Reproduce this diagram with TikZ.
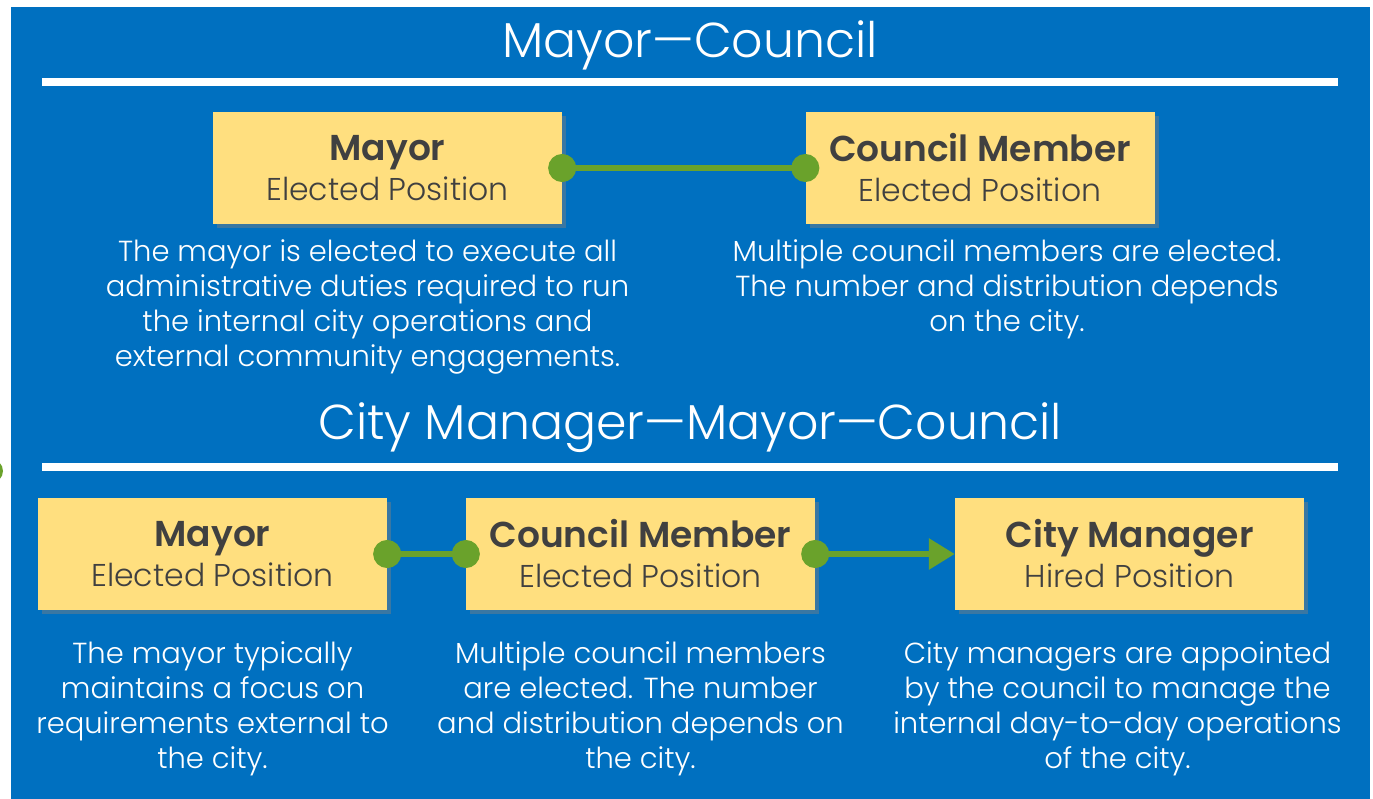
\documentclass[tikz,border=0pt]{standalone}
\usepackage{fontspec}
\setmainfont{Poppins}[UprightFont={* Light},BoldFont={* SemiBold}]
\usetikzlibrary{positioning,shadows,arrows.meta}

\definecolor{bgblue}{HTML}{0070C0}
\definecolor{boxyellow}{HTML}{FFDF7F}
\definecolor{linkgreen}{HTML}{6AA22B}
\definecolor{boxtext}{HTML}{404040}

\tikzset{
  rolebox/.style={fill=boxyellow, text=boxtext, align=center, inner sep=0pt,
    minimum width=349, minimum height=112,
    font=\fontsize{31.5}{40}\selectfont,
    drop shadow={shadow xshift=4pt, shadow yshift=-4pt, opacity=.45}},
  desc/.style={text=white, align=center, inner sep=0pt,
    font=\fontsize{29}{35}\selectfont},
  heading/.style={text=white, inner sep=0pt, font=\fontsize{49}{56}\selectfont},
  link/.style={linkgreen, line width=6pt,
    {Circle[length=28pt]}-{Circle[length=28pt]},
    shorten <=-14pt, shorten >=-14pt},
  hand/.style={linkgreen, line width=6pt,
    {Circle[length=28pt]}-{Triangle[length=26pt,width=30pt]},
    shorten <=-14pt},
}
\newcommand{\role}[2]{{\fontsize{36}{40}\selectfont\bfseries #1}\\#2}

\begin{document}
\begin{tikzpicture}[x=1pt,y=-1pt]
  \useasboundingbox (0,0) rectangle (1373,799);
  \fill[white] (0,0) rectangle (1373,799);
  \fill[bgblue] (11,7) rectangle (1370,799);
  \fill[linkgreen] (-9,471) circle (12);

  % first model
  \node[heading] (titleA) at (690,45) {Mayor---Council};
  \fill[white] (42,78) rectangle (1338,86);

  \node[rolebox] (mayorA) at (387.5,168) {\role{Mayor}{Elected Position}};
  \node[rolebox] (councilA) at (980,168) {\role{Council Member}{Elected Position}};
  \draw[link] (mayorA.east) -- (councilA.west);

  \node[desc, below=15pt of mayorA, xshift=-20pt] (mayorAtxt)
    {The mayor is elected to execute all\\administrative duties required to run\\the internal city operations and\\external community engagements.};
  \node[desc, below=15pt of councilA, xshift=27pt] (councilAtxt)
    {Multiple council members are elected.\\The number and distribution depends\\on the city.};

  % second model
  \node[heading] (titleB) at (690,428) {City Manager---Mayor---Council};
  \fill[white] (42,463) rectangle (1338,471);

  \node[rolebox] (mayorB) at (212.5,554) {\role{Mayor}{Elected Position}};
  \node[rolebox] (councilB) at (640.5,554) {\role{Council Member}{Elected Position}};
  \node[rolebox] (manager) at (1129.5,554) {\role{City Manager}{Hired Position}};
  \draw[link] (mayorB.east) -- (councilB.west);
  \draw[hand] (councilB.east) -- (manager.west);

  \node[desc, below=31pt of mayorB] (mayorBtxt)
    {The mayor typically\\maintains a focus on\\requirements external to\\the city.};
  \node[desc, below=31pt of councilB] (councilBtxt)
    {Multiple council members\\are elected. The number\\and distribution depends on\\the city.};
  \node[desc, below=31pt of manager, xshift=-12pt] (managerTxt)
    {City managers are appointed\\by the council to manage the\\internal day-to-day operations\\of the city.};
\end{tikzpicture}
\end{document}
